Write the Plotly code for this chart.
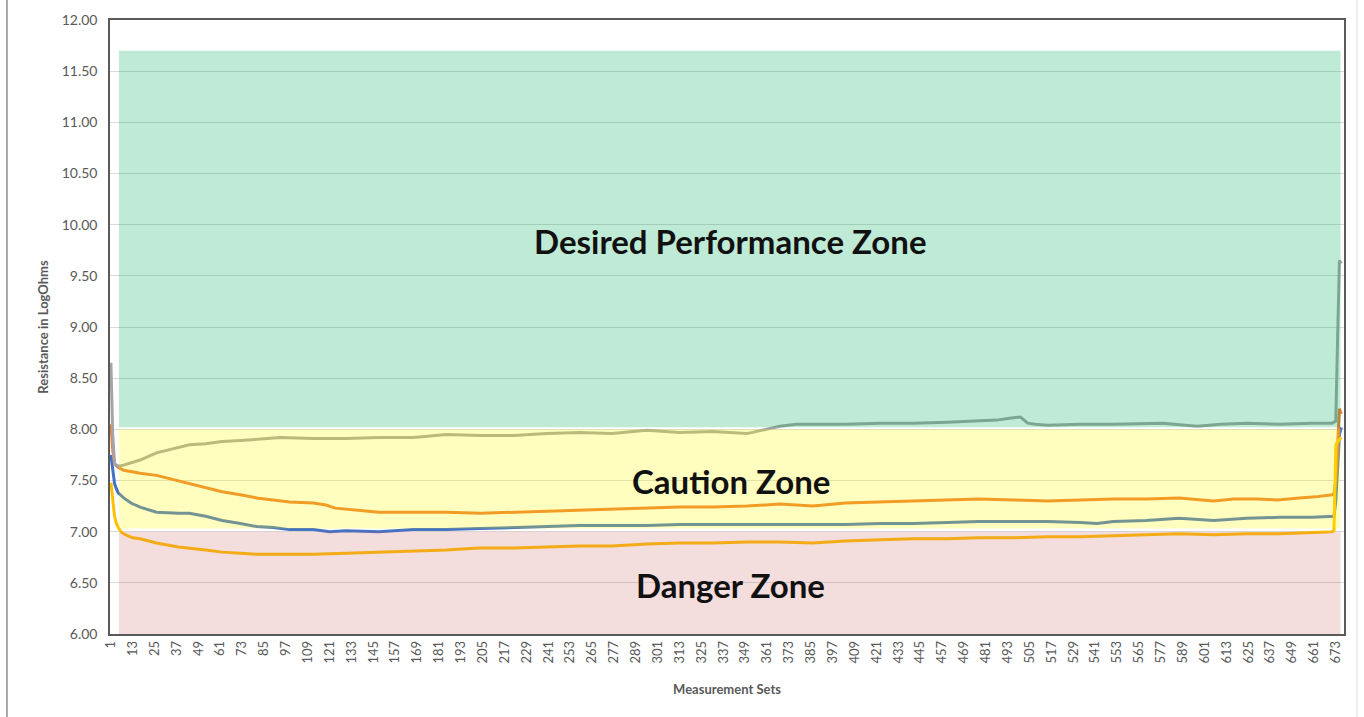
import plotly.graph_objects as go

blue_x = [1, 2, 3, 4, 5, 8, 12, 17, 26, 38, 44, 53, 62, 72, 81, 90, 99, 112, 121, 130, 148, 167, 185, 203,
          222, 240, 258, 276, 295, 313, 331, 350, 368, 386, 404, 423, 441, 460, 477, 496, 515, 533, 542,
          551, 569, 587, 606, 624, 642, 660, 671, 672, 673, 674, 675, 676]
blue_y = [7.75, 7.62, 7.47, 7.42, 7.38, 7.33, 7.28, 7.24, 7.19, 7.18, 7.18, 7.15, 7.11, 7.08, 7.05, 7.04,
          7.02, 7.02, 7.00, 7.01, 7.00, 7.02, 7.02, 7.03, 7.04, 7.05, 7.06, 7.06, 7.06, 7.07, 7.07, 7.07,
          7.07, 7.07, 7.07, 7.08, 7.08, 7.09, 7.10, 7.10, 7.10, 7.09, 7.08, 7.10, 7.11, 7.13, 7.11, 7.13,
          7.14, 7.14, 7.15, 7.15, 7.30, 7.70, 7.95, 8.02]

orange_x = [1, 2, 3, 5, 8, 13, 17, 26, 35, 44, 53, 62, 72, 81, 90, 99, 112, 119, 124, 130, 140, 148, 167,
            185, 204, 222, 240, 258, 276, 295, 313, 331, 350, 368, 386, 404, 423, 441, 460, 477, 496, 515,
            533, 551, 569, 587, 606, 617, 630, 641, 653, 662, 671, 672, 673, 674, 675, 676]
orange_y = [8.05, 7.80, 7.66, 7.63, 7.60, 7.58, 7.57, 7.55, 7.51, 7.47, 7.43, 7.39, 7.36, 7.33, 7.31, 7.29,
            7.28, 7.26, 7.23, 7.22, 7.20, 7.19, 7.19, 7.19, 7.18, 7.19, 7.20, 7.21, 7.22, 7.23, 7.24, 7.24,
            7.25, 7.27, 7.25, 7.28, 7.29, 7.30, 7.31, 7.32, 7.31, 7.30, 7.31, 7.32, 7.32, 7.33, 7.30, 7.32,
            7.32, 7.31, 7.33, 7.34, 7.36, 7.37, 7.50, 7.90, 8.20, 8.15]

gray_x = [1, 2, 3, 5, 8, 13, 17, 26, 37, 44, 53, 62, 72, 81, 94, 112, 130, 148, 167, 185, 204, 222, 240,
          258, 276, 295, 313, 331, 350, 353, 360, 368, 377, 386, 404, 423, 441, 460, 477, 487, 495, 500,
          504, 508, 515, 533, 551, 569, 578, 597, 610, 624, 642, 660, 671, 672, 673, 674, 675, 676]
gray_y = [8.65, 7.95, 7.66, 7.64, 7.65, 7.68, 7.70, 7.77, 7.82, 7.85, 7.86, 7.88, 7.89, 7.90, 7.92, 7.91,
          7.91, 7.92, 7.92, 7.95, 7.94, 7.94, 7.96, 7.97, 7.96, 7.99, 7.97, 7.98, 7.96, 7.97, 8.00, 8.03,
          8.05, 8.05, 8.05, 8.06, 8.06, 8.07, 8.08, 8.09, 8.11, 8.12, 8.06, 8.05, 8.04, 8.05, 8.05, 8.06,
          8.06, 8.03, 8.05, 8.06, 8.05, 8.06, 8.06, 8.07, 8.08, 8.90, 9.65, 9.62]

gold_x = [1, 2, 3, 4, 5, 7, 10, 13, 17, 26, 38, 53, 62, 72, 81, 99, 112, 130, 148, 167, 185, 203, 222, 240,
          258, 276, 295, 313, 331, 350, 368, 386, 404, 423, 441, 460, 477, 496, 515, 533, 551, 569, 587,
          606, 624, 642, 660, 671, 672, 673, 674, 675, 676]
gold_y = [7.48, 7.30, 7.15, 7.08, 7.04, 6.99, 6.96, 6.94, 6.93, 6.89, 6.85, 6.82, 6.80, 6.79, 6.78, 6.78,
          6.78, 6.79, 6.80, 6.81, 6.82, 6.84, 6.84, 6.85, 6.86, 6.86, 6.88, 6.89, 6.89, 6.90, 6.90, 6.89,
          6.91, 6.92, 6.93, 6.93, 6.94, 6.94, 6.95, 6.95, 6.96, 6.97, 6.98, 6.97, 6.98, 6.98, 6.99, 7.00,
          7.01, 7.85, 7.88, 7.90, 7.92]

# zone bands (bottom, top) and their labels
zone_names = ["Danger Zone", "Caution Zone", "Desired Performance Zone"]
zone_low = [6.00, 7.03, 8.02]
zone_high = [7.00, 8.00, 11.70]
zone_label_y = [6.48, 7.50, 9.84]
zone_fill = ["rgba(200,100,100,0.22)", "rgba(255,250,0,0.25)", "rgba(0,170,90,0.25)"]
zone_start, zone_end = 5.4, 675.6

x_ticks = list(range(1, 674, 12))
y_ticks = [6.0, 6.5, 7.0, 7.5, 8.0, 8.5, 9.0, 9.5, 10.0, 10.5, 11.0, 11.5, 12.0]

fig = go.Figure()
series = [(blue_x, blue_y, "#4472C4"), (orange_x, orange_y, "#ED7D31"),
          (gray_x, gray_y, "#A5A5A5"), (gold_x, gold_y, "#FFC000")]
for xs, ys, col in series:
    fig.add_trace(go.Scatter(x=xs, y=ys, mode="lines", line=dict(color=col, width=3),
                             showlegend=False, hoverinfo="skip"))

for lo, hi, fill in zip(zone_low, zone_high, zone_fill):
    fig.add_shape(type="rect", xref="x", yref="y", x0=zone_start, x1=zone_end, y0=lo, y1=hi,
                  fillcolor=fill, line_width=0, layer="above")

for name, ly in zip(zone_names, zone_label_y):
    fig.add_annotation(x=341, y=ly, text="<b>%s</b>" % name, showarrow=False,
                       font=dict(family="Lato", size=33, color="#111111"))

# outer frame of the original picture
fig.add_shape(type="line", xref="paper", yref="paper", x0=-0.0835, x1=-0.0835, y0=-0.14, y1=1.04,
              line=dict(color="#8c8c8c", width=1.5))
fig.add_shape(type="line", xref="paper", yref="paper", x0=1.0105, x1=1.0105, y0=-0.14, y1=1.04,
              line=dict(color="#dcdcdc", width=1))

fig.update_layout(
    width=1364, height=717,
    margin=dict(l=110, r=20, t=20, b=83),
    paper_bgcolor="white", plot_bgcolor="white",
    font=dict(family="Lato", color="#595959"),
)
fig.update_xaxes(
    range=[0.5, 677.5], tickmode="array", tickvals=x_ticks, tickangle=-90,
    tickfont=dict(size=13), showgrid=False, zeroline=False,
    showline=True, mirror=True, linecolor="#5a5a5a", linewidth=1.5,
    title=dict(text="<b>Measurement Sets</b>", font=dict(size=13), standoff=22),
)
fig.update_yaxes(
    range=[6, 12], tickmode="array", tickvals=y_ticks, tickformat=".2f",
    tickfont=dict(size=14), showgrid=True, gridcolor="#d9d9d9", gridwidth=1, zeroline=False,
    showline=True, mirror=True, linecolor="#5a5a5a", linewidth=1.5, ticklabelstandoff=8,
    title=dict(text="<b>Resistance in LogOhms</b>", font=dict(size=13), standoff=10),
)

fig.write_html("out.html", config={"displayModeBar": False},
               post_script="document.body.style.margin='0';")
